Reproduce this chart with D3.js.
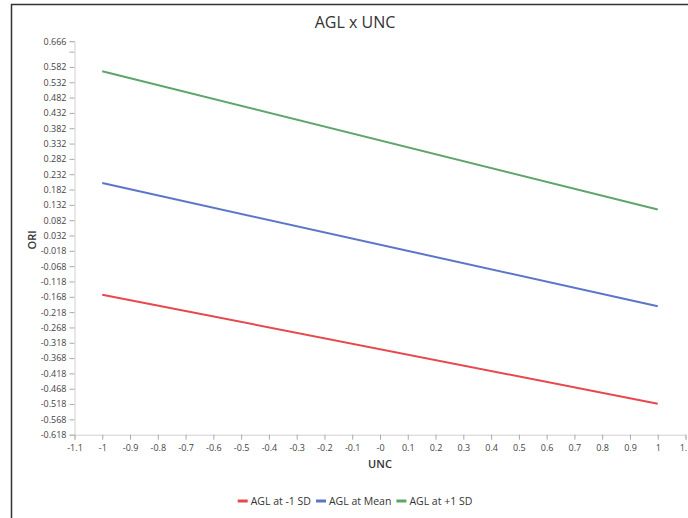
<!DOCTYPE html>
<html>
<head>
<meta charset="utf-8">
<script src="https://cdn.jsdelivr.net/npm/d3@7"></script>
<style>
  html, body { margin: 0; padding: 0; background: #fff; overflow: hidden; }
  svg { display: block; }
</style>
</head>
<body>
<script>
// ---- data ----
const xValues = [-1, 1];
const seriesNames = ["AGL at -1 SD", "AGL at Mean", "AGL at +1 SD"];
const seriesColors = ["#e8474d", "#5b76c9", "#5ea46b"];
const lowValues = [-0.161, -0.517];
const meanValues = [0.203, -0.199];
const highValues = [0.568, 0.117];
const xTickValues = [-1.1,-1,-0.9,-0.8,-0.7,-0.6,-0.5,-0.4,-0.3,-0.2,-0.1,0,0.1,0.2,0.3,0.4,0.5,0.6,0.7,0.8,0.9,1,1.1];
const xTickLabels = ["-1.1","-1","-0.9","-0.8","-0.7","-0.6","-0.5","-0.4","-0.3","-0.2","-0.1","-0","0.1","0.2","0.3","0.4","0.5","0.6","0.7","0.8","0.9","1","1.1"];
const yTickValues = [-0.618,-0.568,-0.518,-0.468,-0.418,-0.368,-0.318,-0.268,-0.218,-0.168,-0.118,-0.068,-0.018,0.032,0.082,0.132,0.182,0.232,0.282,0.332,0.382,0.432,0.482,0.532,0.582,0.632,0.666];
const yTickLabels = ["-0.618","-0.568","-0.518","-0.468","-0.418","-0.368","-0.318","-0.268","-0.218","-0.168","-0.118","-0.068","-0.018","0.032","0.082","0.132","0.182","0.232","0.282","0.332","0.382","0.432","0.482","0.532","0.582","","0.666"];
const yDomain = [-0.618, 0.666];
const xDomain = [-1.1, 1.1];
const title = "AGL x UNC";
const xTitle = "UNC";
const yTitle = "ORI";

const series = [lowValues, meanValues, highValues].map((vals, i) => ({
  name: seriesNames[i], color: seriesColors[i],
  points: xValues.map((x, j) => ({x, y: vals[j]}))
}));

// ---- chart ----
const W = 688, H = 518;
const font = "'Open Sans', 'Noto Sans', sans-serif";
const svg = d3.select("body").append("svg").attr("width", W).attr("height", H)
  .style("font-family", font);

// frame
svg.append("rect").attr("x", 11.5).attr("y", 4.5).attr("width", 900).attr("height", 700)
  .attr("fill", "#fff").attr("stroke", "#333").attr("stroke-width", 1.5);

const x = d3.scaleLinear().domain(xDomain).range([74.5, 685.5]);
const y = d3.scaleLinear().domain(yDomain).range([434.7, 41.2]);

svg.append("text").attr("x", 355).attr("y", 28).attr("text-anchor", "middle")
  .attr("font-size", 16).attr("fill", "#333").text(title);

// y axis
const yAxis = svg.append("g").attr("transform", `translate(${x(xDomain[0])},0)`)
  .call(d3.axisLeft(y).tickValues(yTickValues).tickSize(5).tickPadding(3)
    .tickFormat((d, i) => yTickLabels[i]));
yAxis.select(".domain").attr("stroke", "#d0d0d0");
yAxis.selectAll(".tick line").attr("stroke", "#aaa");
yAxis.selectAll(".tick text").attr("font-size", 9).attr("fill", "#444").style("font-family", font);

// x axis
const xAxis = svg.append("g").attr("transform", `translate(0,${y(yDomain[0])})`)
  .call(d3.axisBottom(x).tickValues(xTickValues).tickSize(5).tickPadding(5)
    .tickFormat((d, i) => xTickLabels[i]));
xAxis.select(".domain").attr("stroke", "#d0d0d0");
xAxis.selectAll(".tick line").attr("stroke", "#aaa");
xAxis.selectAll(".tick text").attr("font-size", 9).attr("fill", "#444").style("font-family", font);

// axis titles
svg.append("text").attr("x", 380).attr("y", 468).attr("text-anchor", "middle")
  .attr("font-size", 11).attr("font-weight", 600).attr("fill", "#333").text(xTitle);
svg.append("text").attr("transform", "translate(36,240) rotate(-90)").attr("text-anchor", "middle")
  .attr("font-size", 11).attr("font-weight", 600).attr("fill", "#333").text(yTitle);

// lines
const line = d3.line().x(d => x(d.x)).y(d => y(d.y));
svg.append("g").selectAll("path").data(series).join("path")
  .attr("d", d => line(d.points)).attr("fill", "none")
  .attr("stroke", d => d.color).attr("stroke-width", 2);

// legend (laid out from measured text widths, centred)
const legend = svg.append("g").attr("transform", "translate(0,501)");
const items = legend.selectAll("g").data(series).join("g");
items.append("line").attr("x1", 0).attr("x2", 10).attr("y1", 0).attr("y2", 0)
  .attr("stroke", d => d.color).attr("stroke-width", 3);
items.append("text").attr("x", 13).attr("y", 4).attr("font-size", 10.5).attr("fill", "#333")
  .text(d => d.name);
const gap = 5;
let cx = 0;
const offs = [];
items.each(function() {
  offs.push(cx);
  cx += this.getBBox().width + gap;
});
const total = cx - gap;
const start = 355 - total / 2;
items.attr("transform", (d, i) => `translate(${start + offs[i]},0)`);
</script>
</body>
</html>
